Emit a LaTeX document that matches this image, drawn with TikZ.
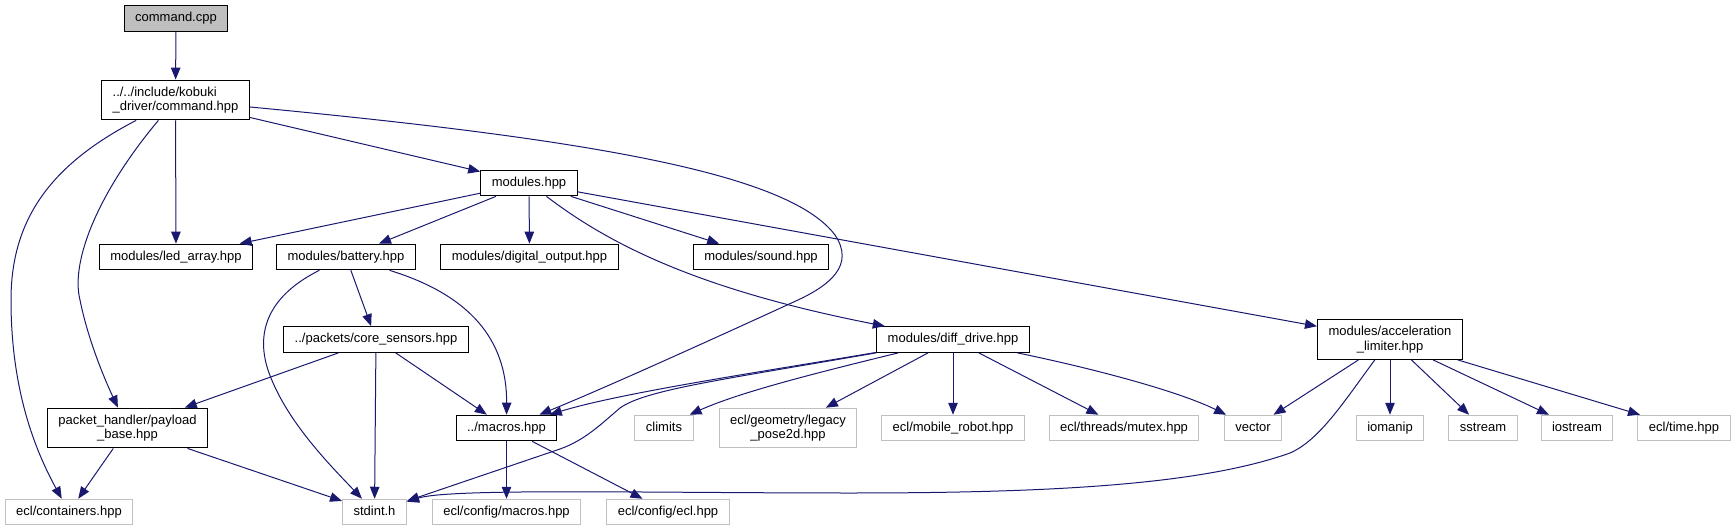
\documentclass[tikz,border=0pt]{standalone}
\usepackage{fontspec}
\setmainfont{Liberation Sans}
\usetikzlibrary{arrows.meta}
\definecolor{edgeblue}{HTML}{191970}
\definecolor{nodegray}{HTML}{BFBFBF}
\begin{document}
\begin{tikzpicture}[x=1pt,y=-1pt,
  box/.style={draw=black, line width=1.2pt, fill=white, font=\fontsize{13}{14.5}\selectfont,
    inner xsep=11pt, inner ysep=6.5pt, minimum height=25.5pt, align=center},
  sl/.style={text height=9.5pt, text depth=2.8pt},
  blk/.style={box, sl},
  blkm/.style={box},
  gry/.style={box, sl, draw=nodegray, line width=1pt},
  grym/.style={box, draw=nodegray, line width=1pt},
  rootbox/.style={box, sl, fill=nodegray},
  edge/.style={draw=edgeblue, line width=1pt, -{Triangle[length=12pt,width=9.5pt]}}]
\useasboundingbox (0,0) rectangle (1736,529);
% nodes
\node[rootbox] (cmd) at (176,18.5) {command.cpp};
\node[blkm, align=left] (kob) at (175.5,100) {../../include/kobuki\\\_driver/command.hpp};
\node[blk] (mods) at (529,183) {modules.hpp};
\node[blk] (led) at (176,257) {modules/led\_array.hpp};
\node[blk] (bat) at (346,257) {modules/battery.hpp};
\node[blk] (dig) at (529.5,257) {modules/digital\_output.hpp};
\node[blk] (snd) at (761,257) {modules/sound.hpp};
\node[blk] (core) at (376,339.5) {../packets/core\_sensors.hpp};
\node[blk] (diff) at (953,339.5) {modules/diff\_drive.hpp};
\node[blkm] (acc) at (1390,339.5) {modules/acceleration\\\_limiter.hpp};
\node[blkm] (pay) at (127.5,428) {packet\_handler/payload\\\_base.hpp};
\node[blk] (mac) at (506.5,428) {../macros.hpp};
\node[gry] (clim) at (664,428) {climits};
\node[grym] (leg) at (788,428) {ecl/geometry/legacy\\\_pose2d.hpp};
\node[gry] (mob) at (953,428) {ecl/mobile\_robot.hpp};
\node[gry] (mut) at (1124,428) {ecl/threads/mutex.hpp};
\node[gry] (vec) at (1253,428) {vector};
\node[gry] (iom) at (1390,428) {iomanip};
\node[gry] (sst) at (1483,428) {sstream};
\node[gry] (ios) at (1577,428) {iostream};
\node[gry] (tim) at (1684,428) {ecl/time.hpp};
\node[gry] (cont) at (69,512) {ecl/containers.hpp};
\node[gry] (std) at (374.5,512) {stdint.h};
\node[gry] (cmac) at (506.5,512) {ecl/config/macros.hpp};
\node[gry] (cecl) at (668,512) {ecl/config/ecl.hpp};
% edges
\draw[edge] (cmd) -- (kob);
\draw[edge] (kob) -- (led);
\draw[edge] (kob) -- (mods);
\draw[edge] (kob) .. controls (600,140) and (790,175) .. (835,235)
  .. controls (855,265) and (830,285) .. (798,300)
  .. controls (700,345) and (600,390) .. (mac);
\draw[edge] (kob) .. controls (100,190) and (70,260) .. (80,300)
  .. controls (88,340) and (105,380) .. (pay);
\draw[edge] (kob) .. controls (50,165) and (11,220) .. (11,300)
  .. controls (11,390) and (35,450) .. (cont);
\draw[edge] (mods) -- (led);
\draw[edge] (mods) -- (bat);
\draw[edge] (mods) -- (dig);
\draw[edge] (mods) -- (snd);
\draw[edge] (mods) .. controls (610,245) and (700,290) .. (diff);
\draw[edge] (mods) -- (acc);
\draw[edge] (bat) -- (core);
\draw[edge] (bat) .. controls (470,295) and (507,340) .. (mac);
\draw[edge] (bat) .. controls (270,295) and (255,330) .. (268,370)
  .. controls (285,420) and (330,465) .. (std);
\draw[edge] (core) -- (pay);
\draw[edge] (core) -- (std);
\draw[edge] (core) -- (mac);
\draw[edge] (pay) -- (cont);
\draw[edge] (pay) -- (std);
\draw[edge] (mac) -- (cmac);
\draw[edge] (mac) -- (cecl);
\draw[edge] (diff) .. controls (760,372) and (620,393) .. (mac);
\draw[edge] (diff) .. controls (720,380) and (645,390) .. (620,408)
  .. controls (600,425) and (585,440) .. (560,449) -- (std);
\draw[edge] (diff) .. controls (820,372) and (740,392) .. ([xshift=-4pt]clim.north east);
\draw[edge] (diff) -- (leg);
\draw[edge] (diff) -- (mob);
\draw[edge] (diff) -- (mut);
\draw[edge] (diff) .. controls (1100,370) and (1180,392) .. (vec);
\draw[edge] (acc) -- (vec);
\draw[edge] (acc) .. controls (1345,400) and (1320,440) .. (1290,453)
  .. controls (1200,485) and (1050,493) .. (850,493)
  .. controls (650,493) and (450,488) .. (std);
\draw[edge] (acc) -- (iom);
\draw[edge] (acc) -- (sst);
\draw[edge] (acc) -- (ios);
\draw[edge] (acc) -- (tim);
\end{tikzpicture}
\end{document}
